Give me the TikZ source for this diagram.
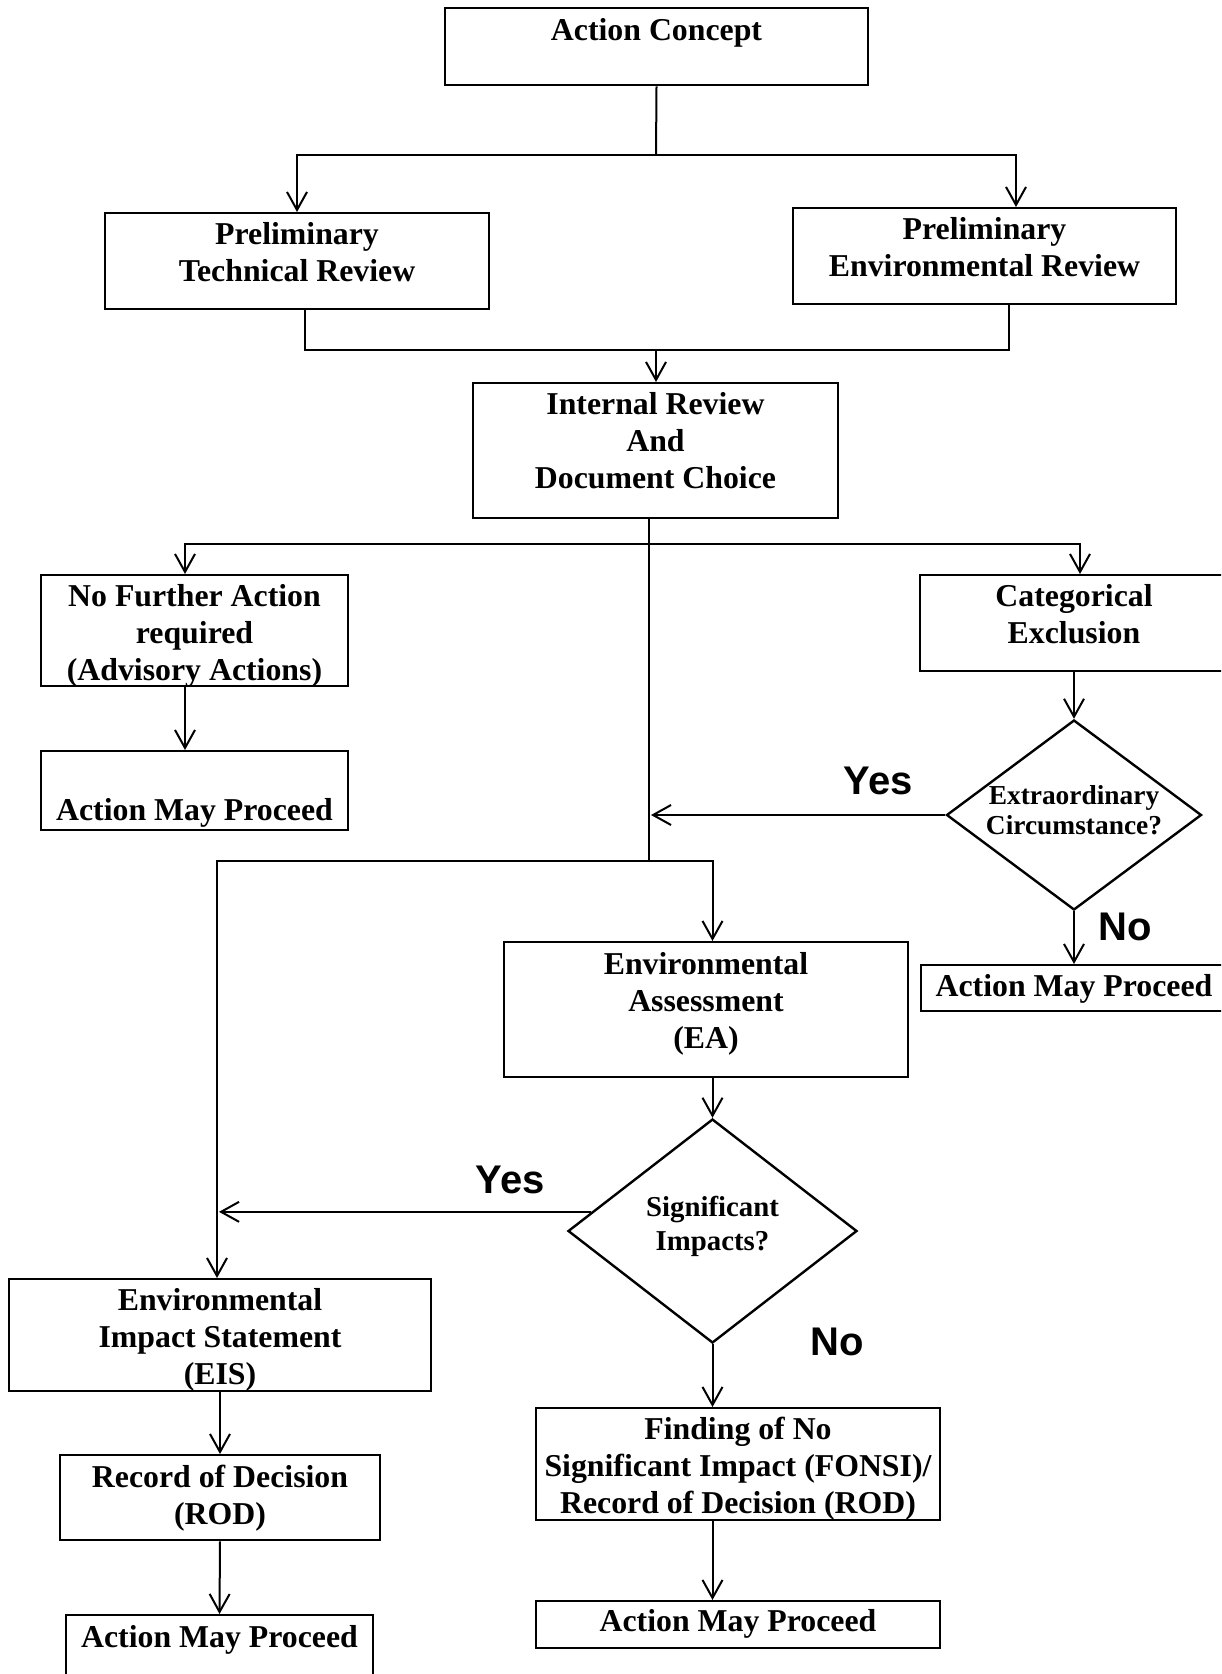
\documentclass[tikz,border=0pt]{standalone}
\usepackage{fontspec}
\setmainfont{Liberation Serif}
\newfontfamily\labelsans{Liberation Sans}
\usetikzlibrary{arrows.meta, calc, shapes.geometric}
\tikzset{
  box/.style={draw, line width=1.2pt, anchor=north, align=center,
              inner xsep=0pt, inner ysep=0pt,
              font=\fontsize{15.9}{18.5}\selectfont\bfseries},
  decbox/.style={draw, diamond, line width=1.2pt, inner sep=0pt, align=center},
  arr/.style={-{Straight Barb[length=9pt,width=10pt]}, line width=1pt},
  link/.style={line width=1pt},
  yn/.style={font=\labelsans\fontsize{20}{24}\selectfont\bfseries},
}

\begin{document}
\begin{tikzpicture}[x=0.5pt, y=-0.5pt]

\path[use as bounding box, fill=white] (0,0) rectangle (1221,1674);
\clip (0,0) rectangle (1221,1674);

% ── Top: concept and preliminary reviews ─────────────────────────────────────

\node[box, minimum width=211.5pt, text height=16pt, text depth=22.5pt]
  (concept) at (656.5, 7) {Action Concept};

\node[box, minimum width=192pt, text height=34pt, text depth=14pt]
  (techrev) at (297, 212) {Preliminary\\Technical Review};

\node[box, minimum width=191.5pt, text height=34pt, text depth=14pt]
  (envrev) at (984.5, 207) {Preliminary\\Environmental Review};

\node[box, minimum width=182.5pt, text height=52.5pt, text depth=15pt]
  (choice) at (655.5, 382) {Internal Review\\And\\Document Choice};

% ── Left column ──────────────────────────────────────────────────────────────

\node[box, minimum width=153.5pt, text height=52.5pt, text depth=3pt]
  (nofurther) at (194.5, 574) {No Further Action\\required\\(Advisory Actions)};

\node[box, minimum width=153.5pt, text height=34.5pt, text depth=5pt]
  (proceedA) at (194.5, 750) {Action May Proceed};

% ── Right column ─────────────────────────────────────────────────────────────

\node[box, minimum width=154pt, text height=34pt, text depth=14pt]
  (catex) at (1074, 574) {Categorical\\Exclusion};

\node[decbox, minimum width=127.5pt, minimum height=95pt, aspect=1.34,
      text height=21.7pt, text depth=2.7pt,
      font=\fontsize{13.7}{15}\selectfont\bfseries]
  (extra) at (1074, 815) {Extraordinary\\Circumstance?};

\node[box, minimum width=153pt, text height=15.5pt, text depth=7.5pt]
  (proceedB) at (1074, 964) {Action May Proceed};

% ── EA branch ────────────────────────────────────────────────────────────────

\node[box, minimum width=202pt, text height=53pt, text depth=14.5pt]
  (assess) at (706, 941) {Environmental\\Assessment\\(EA)};

\node[decbox, minimum width=144.5pt, minimum height=112pt, aspect=1.29,
      text height=24.8pt, text depth=5.3pt,
      font=\fontsize{14.4}{17}\selectfont\bfseries]
  (signif) at (712.5, 1231) {Significant\\Impacts?};

\node[box, minimum width=202pt, text height=52.5pt, text depth=3.5pt]
  (fonsi) at (738, 1407)
  {Finding of No\\Significant Impact (FONSI)/\\Record of Decision (ROD)};

\node[box, minimum width=202pt, text height=15pt, text depth=8.5pt]
  (proceedD) at (738, 1600) {Action May Proceed};

% ── EIS branch ───────────────────────────────────────────────────────────────

\node[box, minimum width=211pt, text height=52.5pt, text depth=3.5pt]
  (eis) at (220, 1278) {Environmental\\Impact Statement\\(EIS)};

\node[box, minimum width=160pt, text height=34.5pt, text depth=8pt]
  (rod) at (220, 1454) {Record of Decision\\(ROD)};

\node[box, minimum width=153.5pt, text height=16pt, text depth=30pt]
  (proceedC) at (219.5, 1614) {Action May Proceed};

% ── Yes / No labels ──────────────────────────────────────────────────────────

\node[yn] (yesA) at (878, 781)  {Yes};
\node[yn] (noA)  at (1125, 927) {No};
\node[yn] (yesB) at (510, 1180) {Yes};
\node[yn] (noB)  at (837, 1342) {No};

% ── Junctions ────────────────────────────────────────────────────────────────

\coordinate (split)  at (656, 155);
\coordinate (merge)  at (656, 350);
\coordinate (fork)   at (649, 544);
\coordinate (spine)  at (649, 861);
\coordinate (eisend) at (217, 861);

% ── Arrows ───────────────────────────────────────────────────────────────────

% concept to both reviews
\draw[link] (concept.south) -- (split);
\draw[arr] (split) -| (techrev.north);
\draw[arr] (split) -| ($(envrev.north)+(31.5,0)$);

% reviews join, down to document choice
\draw[link] ($(techrev.south)+(8,0)$) |- (merge) -| ($(envrev.south)+(24.5,0)$);
\draw[arr] (merge) -- (choice.north -| merge);

% main spine with fork to the sides
\draw[link] (choice.south -| fork) -- (spine);
\draw[arr] (fork) -| ($(nofurther.north)+(-9.5,0)$);
\draw[arr] (fork) -| ($(catex.north)+(6,0)$);
\draw[arr] ($(nofurther.south)+(-9.5,0)$) -- ($(proceedA.north)+(-9.5,0)$);

% categorical exclusion track
\draw[arr] (catex.south) -- (extra.north);
\draw[arr] (extra.west) -- ($(extra.west -| fork)+(2,0)$);
\draw[arr] (extra.south) -- (proceedB.north);

% spine splits to EA and EIS
\draw[arr] (spine) -| (signif.north |- assess.north);
\draw[arr] (spine) -- (eisend) -- (eisend |- eis.north);

% EA track
\draw[arr] (signif.north |- assess.south) -- (signif.north);
\draw[arr] (signif.171.6) -- ($(signif.171.6 -| eisend)+(2,0)$);
\draw[arr] (signif.south) -- (signif.south |- fonsi.north);
\draw[arr] (signif.south |- fonsi.south) -- (signif.south |- proceedD.north);

% EIS track
\draw[arr] (eis.south) -- (rod.north);
\draw[arr] (rod.south) -- (proceedC.north);

\end{tikzpicture}
\end{document}
